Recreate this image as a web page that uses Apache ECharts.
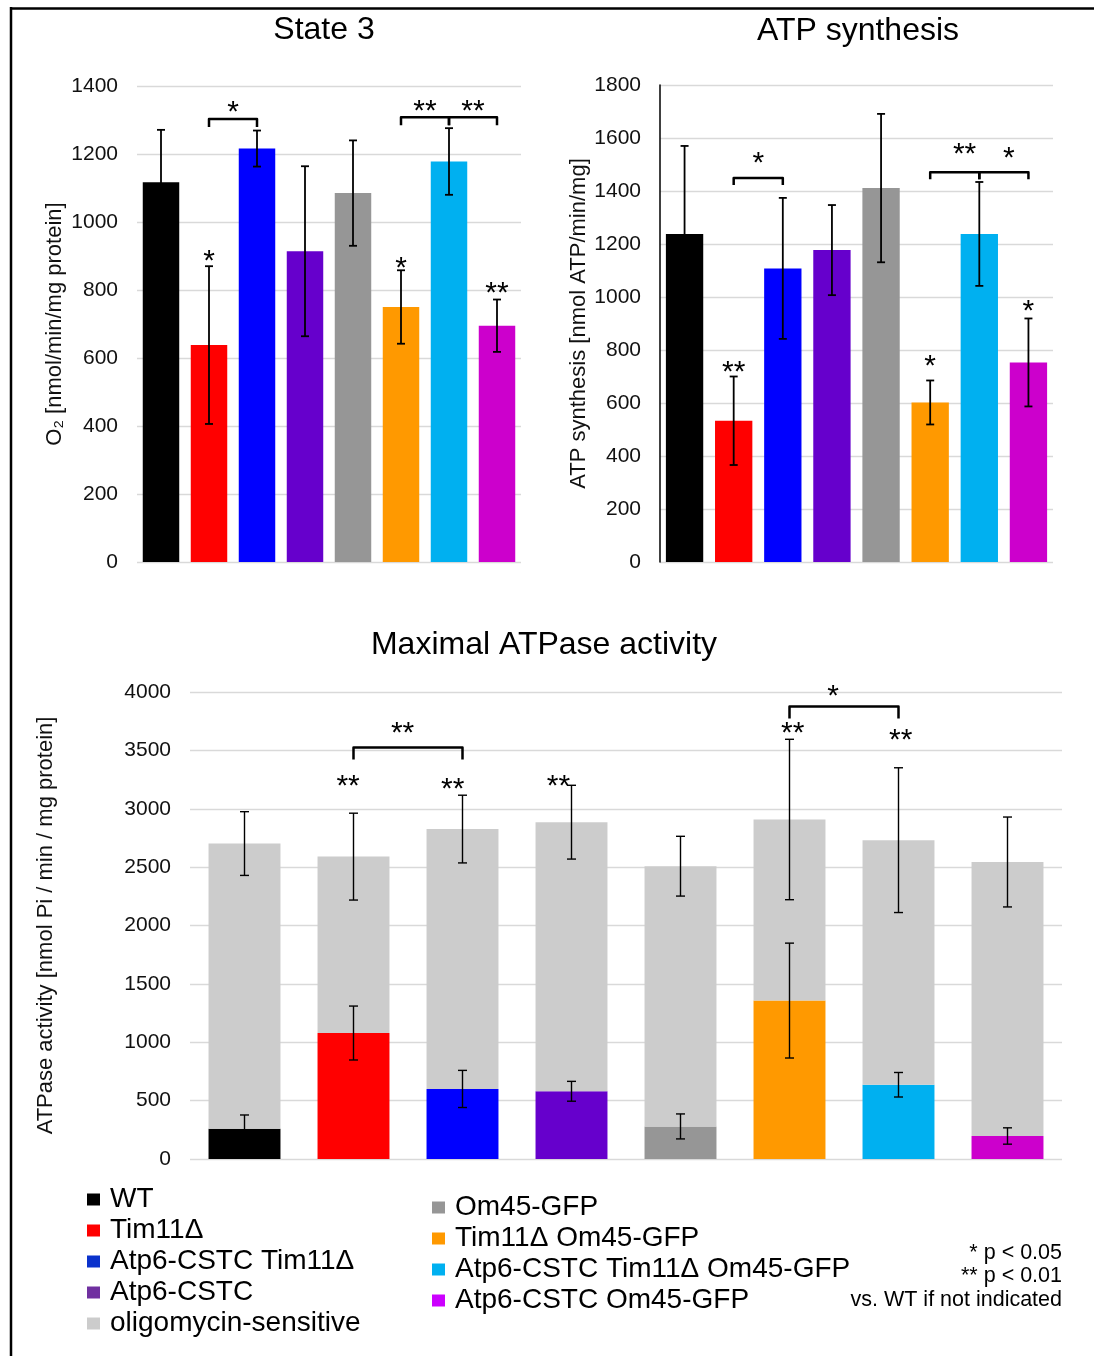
<!DOCTYPE html>
<html><head><meta charset="utf-8">
<script src="https://cdn.jsdelivr.net/npm/echarts@6/dist/echarts.min.js"></script>
<style>html,body{margin:0;padding:0;background:#fff}#c{width:1094px;height:1356px}</style>
</head><body><div id="c"></div>
<script>
// ---------- data ----------
const strains = ['WT', 'Tim11Δ', 'Atp6-CSTC Tim11Δ', 'Atp6-CSTC', 'Om45-GFP',
  'Tim11Δ Om45-GFP', 'Atp6-CSTC Tim11Δ Om45-GFP', 'Atp6-CSTC Om45-GFP'];

// State 3 respiration, O2 [nmol/min/mg protein]
const state3Mean = [1117, 638, 1216, 914, 1085, 750, 1178, 695];
const state3Err  = [154, 232, 53, 250, 155, 108, 98, 77];

// ATP synthesis [nmol ATP/min/mg]
const atpSynMean = [1238, 533, 1108, 1177, 1411, 602, 1238, 753];
const atpSynErr  = [332, 167, 266, 170, 280, 83, 196, 166];

// Maximal ATPase activity [nmol Pi / min / mg protein]
const atpaseInsens    = [259, 1079, 600, 580, 279, 1357, 636, 197];   // coloured part
const atpaseInsensErr = [118, 231, 159, 85, 107, 492, 105, 70];
const atpaseSens      = [2443, 1511, 2226, 2305, 2229, 1551, 2095, 2347]; // oligomycin-sensitive
const atpaseTotalErr  = [273, 372, 290, 316, 256, 687, 620, 385];

// axis ranges [min, max, interval]
const state3Axis = [0, 1400, 200];
const atpSynAxis = [0, 1800, 200];
const atpaseAxis = [0, 4000, 500];

// significance: brackets [from, to, bracketY, labelY, labelX, label]; singles [x, y, label]
const state3Brackets = [[1, 2, 1303, 1341, 1.5, '*'], [5, 6, 1308, 1344, 5.5, '**'], [6, 7, 1308, 1344, 6.5, '**']];
const state3Stars    = [[1, 905, '*'], [5, 883, '*'], [7, 810, '**']];
const atpSynBrackets = [[1, 2, 1449, 1528, 1.5, '*'], [5, 6, 1471, 1564, 5.7, '**'], [6, 7, 1471, 1550, 6.6, '*']];
const atpSynStars    = [[1, 741, '**'], [5, 763, '*'], [7, 972, '*']];
const atpaseBrackets = [[1, 2, 3525, 3705, 1.45, '**'], [5, 6, 3875, 4016, 5.4, '*']];
const atpaseStars    = [[0.95, 3246, '**'], [1.91, 3220, '**'], [2.88, 3250, '**'], [5.03, 3705, '**'], [6.02, 3646, '**']];

// ---------- styles ----------
const FONT = "'Liberation Sans', Arial, Helvetica, sans-serif";
const barColors = ['#000000', '#ff0000', '#0000ff', '#6600cc', '#969696', '#ff9900', '#00b0f0', '#cc00cc'];
const legendColors = ['#000000', '#ff0000', '#0a32cc', '#7030a0', '#969696', '#ff9900', '#00b0f0', '#cc00ff'];
const sensColor = '#cccccc';
const STAR_FONT = '30px ' + FONT;
const STAR_DY = 7;

function catCoord(api, x, y) {
  const i = Math.floor(x), f = x - i;
  const a = api.coord([i, y]);
  if (f < 1e-9) return a;
  const b = api.coord([i + 1, y]);
  return [a[0] + (b[0] - a[0]) * f, a[1]];
}
function starText(x, y, t) {
  return {type: 'text', x: x, y: y + STAR_DY,
    style: {text: t, font: STAR_FONT, fill: '#000', align: 'center', verticalAlign: 'middle',
      textAlign: 'center', textVerticalAlign: 'middle'}};
}
function errSeries(k, means, errs, capHalf, lw) {
  return {type: 'custom', xAxisIndex: k, yAxisIndex: k, z: 4, silent: true, clip: false,
    data: means.map((m, i) => [i, m, m + errs[i], m - errs[i]]),
    encode: {x: 0, y: [2, 3]},
    renderItem: (params, api) => {
      const hi = api.coord([api.value(0), api.value(2)]);
      const lo = api.coord([api.value(0), api.value(3)]);
      const st = {stroke: '#000', lineWidth: lw};
      return {type: 'group', children: [
        {type: 'line', shape: {x1: hi[0], y1: hi[1], x2: lo[0], y2: lo[1]}, style: st},
        {type: 'line', shape: {x1: hi[0] - capHalf, y1: hi[1], x2: hi[0] + capHalf, y2: hi[1]}, style: st},
        {type: 'line', shape: {x1: lo[0] - capHalf, y1: lo[1], x2: lo[0] + capHalf, y2: lo[1]}, style: st}
      ]};
    }};
}
function bracketSeries(k, list, tick) {
  return {type: 'custom', xAxisIndex: k, yAxisIndex: k, z: 5, silent: true, clip: false,
    data: list.map(b => [b[0], b[2]]),
    renderItem: (params, api) => {
      const b = list[params.dataIndex];
      const p1 = api.coord([b[0], b[2]]), p2 = api.coord([b[1], b[2]]);
      const lab = catCoord(api, b[4], b[3]);
      return {type: 'group', children: [
        {type: 'polyline', shape: {points: [[p1[0], p1[1] + tick], [p1[0], p1[1]], [p2[0], p2[1]], [p2[0], p2[1] + tick]]},
          style: {stroke: '#000', lineWidth: 2.5, fill: 'none', lineJoin: 'round'}},
        starText(lab[0], lab[1], b[5])
      ]};
    }};
}
function starSeries(k, list) {
  return {type: 'custom', xAxisIndex: k, yAxisIndex: k, z: 5, silent: true, clip: false,
    data: list.map(s => [Math.round(s[0]), s[1]]),
    renderItem: (params, api) => {
      const s = list[params.dataIndex];
      const p = catCoord(api, s[0], s[1]);
      return starText(p[0], p[1], s[2]);
    }};
}
function xAx(k) {
  return {type: 'category', gridIndex: k, data: strains, axisLine: {show: false},
    axisTick: {show: false}, axisLabel: {show: false}, splitLine: {show: false}};
}
function yAx(k, rng, name, gap, showLine) {
  return {type: 'value', gridIndex: k, min: rng[0], max: rng[1], interval: rng[2],
    axisLine: {show: showLine, lineStyle: {color: '#000', width: 1.5}},
    axisTick: {show: false},
    axisLabel: {fontSize: 21, color: '#111', fontFamily: FONT, margin: 19, formatter: v => String(v)},
    splitLine: {lineStyle: {color: '#d9d9d9', width: 1.3}},
    name: name, nameLocation: 'middle', nameGap: gap,
    nameTextStyle: {fontSize: 22, fontFamily: FONT, color: '#111'}};
}
const titleStyle = {fontSize: 32, fontWeight: 'normal', color: '#000', fontFamily: FONT};
const legendText = {fontSize: 28, fontFamily: FONT, color: '#000', lineHeight: 25, padding: [0, 0, 6, 5]};

const legendSeries = strains.map((s, i) => ({
  type: 'line', name: s, xAxisIndex: 2, yAxisIndex: 2, data: [],
  itemStyle: {color: legendColors[i]}, lineStyle: {color: legendColors[i]}
}));

const option = {
  animation: false,
  backgroundColor: '#fff',
  title: [
    {text: 'State 3', left: 324, top: 14, padding: 0, textAlign: 'center', textStyle: titleStyle},
    {text: 'ATP synthesis', left: 858, top: 15, padding: 0, textAlign: 'center', textStyle: titleStyle},
    {text: 'Maximal ATPase activity', left: 544, top: 629, padding: 0, textAlign: 'center', textStyle: titleStyle}
  ],
  grid: [
    {left: 137, top: 86, width: 384, height: 476},
    {left: 660, top: 85, width: 393, height: 477},
    {left: 190, top: 692, width: 872, height: 467}
  ],
  xAxis: [xAx(0), xAx(1), xAx(2)],
  yAxis: [
    yAx(0, state3Axis, 'O₂ [nmol/min/mg protein]', 71, false),
    yAx(1, atpSynAxis, 'ATP synthesis [nmol ATP/min/mg]', 69, true),
    yAx(2, atpaseAxis, 'ATPase activity [nmol Pi / min / mg protein]', 133, false)
  ],
  legend: [
    {data: strains.slice(0, 4).concat(['oligomycin-sensitive']), orient: 'vertical', left: 87, top: 1184,
      padding: 0, itemWidth: 13, itemHeight: 12, itemGap: 0, icon: 'rect', selectedMode: false, textStyle: legendText},
    {data: strains.slice(4), orient: 'vertical', left: 432, top: 1192,
      padding: 0, itemWidth: 13, itemHeight: 12, itemGap: 0, icon: 'rect', selectedMode: false, textStyle: legendText}
  ],
  graphic: [
    {type: 'line', shape: {x1: 11, y1: 7, x2: 11, y2: 1356}, style: {stroke: '#000', lineWidth: 2.5}},
    {type: 'line', shape: {x1: 10, y1: 8.5, x2: 1094, y2: 8.5}, style: {stroke: '#000', lineWidth: 2.5}},
    {type: 'text', x: 1062, y: 1241, style: {text: '* p < 0.05\n** p < 0.01\nvs. WT if not indicated',
      font: '21.5px ' + FONT, fill: '#000', align: 'right', verticalAlign: 'top', lineHeight: 23.5}}
  ],
  series: [
    {type: 'bar', name: 'State 3', xAxisIndex: 0, yAxisIndex: 0, barCategoryGap: '24%',
      data: state3Mean.map((v, i) => ({value: v, itemStyle: {color: barColors[i]}}))},
    errSeries(0, state3Mean, state3Err, 4, 1.8),
    bracketSeries(0, state3Brackets, 8),
    starSeries(0, state3Stars),

    {type: 'bar', name: 'ATP synthesis', xAxisIndex: 1, yAxisIndex: 1, barCategoryGap: '24%',
      data: atpSynMean.map((v, i) => ({value: v, itemStyle: {color: barColors[i]}}))},
    errSeries(1, atpSynMean, atpSynErr, 4, 1.8),
    bracketSeries(1, atpSynBrackets, 7),
    starSeries(1, atpSynStars),

    {type: 'bar', name: 'oligomycin-insensitive', xAxisIndex: 2, yAxisIndex: 2, stack: 'atpase', barCategoryGap: '34%',
      data: atpaseInsens.map((v, i) => ({value: v, itemStyle: {color: barColors[i]}}))},
    {type: 'bar', name: 'oligomycin-sensitive', xAxisIndex: 2, yAxisIndex: 2, stack: 'atpase', barCategoryGap: '34%',
      itemStyle: {color: sensColor}, data: atpaseSens},
    errSeries(2, atpaseInsens, atpaseInsensErr, 4.5, 1.4),
    errSeries(2, atpaseInsens.map((v, i) => v + atpaseSens[i]), atpaseTotalErr, 4.5, 1.4),
    bracketSeries(2, atpaseBrackets, 12),
    starSeries(2, atpaseStars)
  ].concat(legendSeries)
};

const chart = echarts.init(document.getElementById('c'), null, {renderer: 'canvas'});
chart.setOption(option);
</script></body></html>
